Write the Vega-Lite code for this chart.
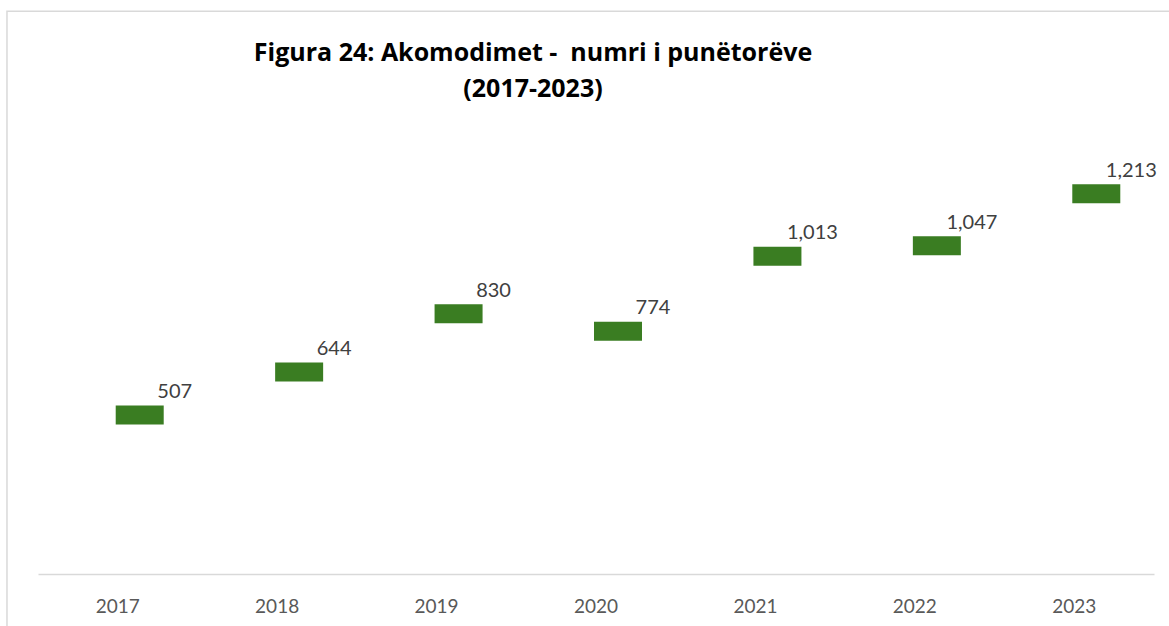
{
  "$schema": "https://vega.github.io/schema/vega-lite/v6.json",
  "autosize": {"type": "none"},
  "width": 1116,
  "height": 439,
  "padding": {"left": 38, "top": 135, "right": 15, "bottom": 52},
  "background": "white",
  "config": {"view": {"stroke": null}, "font": "Lato"},
  "title": {
    "text": ["Figura 24: Akomodimet - \u00a0numri i punëtorëve", "(2017-2023)"],
    "font": "Open Sans",
    "fontSize": 25,
    "fontWeight": "bold",
    "color": "#000000",
    "anchor": "middle",
    "baseline": "bottom",
    "lineHeight": 36,
    "offset": -117,
    "dx": -63
  },
  "datasets": {
    "workers": [
      {"year": "2017", "workers": 507},
      {"year": "2018", "workers": 644},
      {"year": "2019", "workers": 830},
      {"year": "2020", "workers": 774},
      {"year": "2021", "workers": 1013},
      {"year": "2022", "workers": 1047},
      {"year": "2023", "workers": 1213}
    ],
    "frame": [
      {"x0": -0.0278, "x1": 1.2, "y0": 1795, "y1": -600}
    ]
  },
  "resolve": {"scale": {"x": "independent"}, "axis": {"x": "independent"}},
  "layer": [
    {
      "data": {"name": "frame"},
      "mark": {"type": "rect", "fillOpacity": 0, "stroke": "#d9d9d9", "strokeWidth": 1.5},
      "encoding": {
        "x": {"field": "x0", "type": "quantitative", "scale": {"domain": [0, 1], "nice": false, "zero": false}, "axis": null},
        "x2": {"field": "x1"},
        "y": {"field": "y0", "type": "quantitative", "scale": {"domain": [0, 1400], "nice": false}, "axis": null},
        "y2": {"field": "y1"}
      }
    },
    {
      "data": {"name": "workers"},
      "layer": [
        {
          "mark": {"type": "tick", "size": 48, "thickness": 19, "xOffset": 22, "color": "#3A7D22", "opacity": 1},
          "encoding": {
            "x": {
              "field": "year",
              "type": "ordinal",
              "scale": {"paddingInner": 0, "paddingOuter": 0},
              "axis": {
                "title": null,
                "labelAngle": 0,
                "grid": false,
                "ticks": false,
                "tickSize": 0,
                "domainColor": "#d9d9d9",
                "domainWidth": 1.5,
                "labelFont": "Lato",
                "labelFontSize": 19,
                "labelColor": "#595959",
                "labelPadding": 23
              }
            },
            "y": {
              "field": "workers",
              "type": "quantitative",
              "scale": {"domain": [0, 1400], "nice": false},
              "axis": null
            }
          }
        },
        {
          "mark": {"type": "text", "align": "center", "baseline": "alphabetic", "dx": 57, "dy": -17, "font": "Lato", "fontSize": 20, "color": "#404040"},
          "encoding": {
            "x": {"field": "year", "type": "ordinal"},
            "y": {"field": "workers", "type": "quantitative"},
            "text": {"field": "workers", "type": "quantitative", "format": ","}
          }
        }
      ]
    }
  ]
}
